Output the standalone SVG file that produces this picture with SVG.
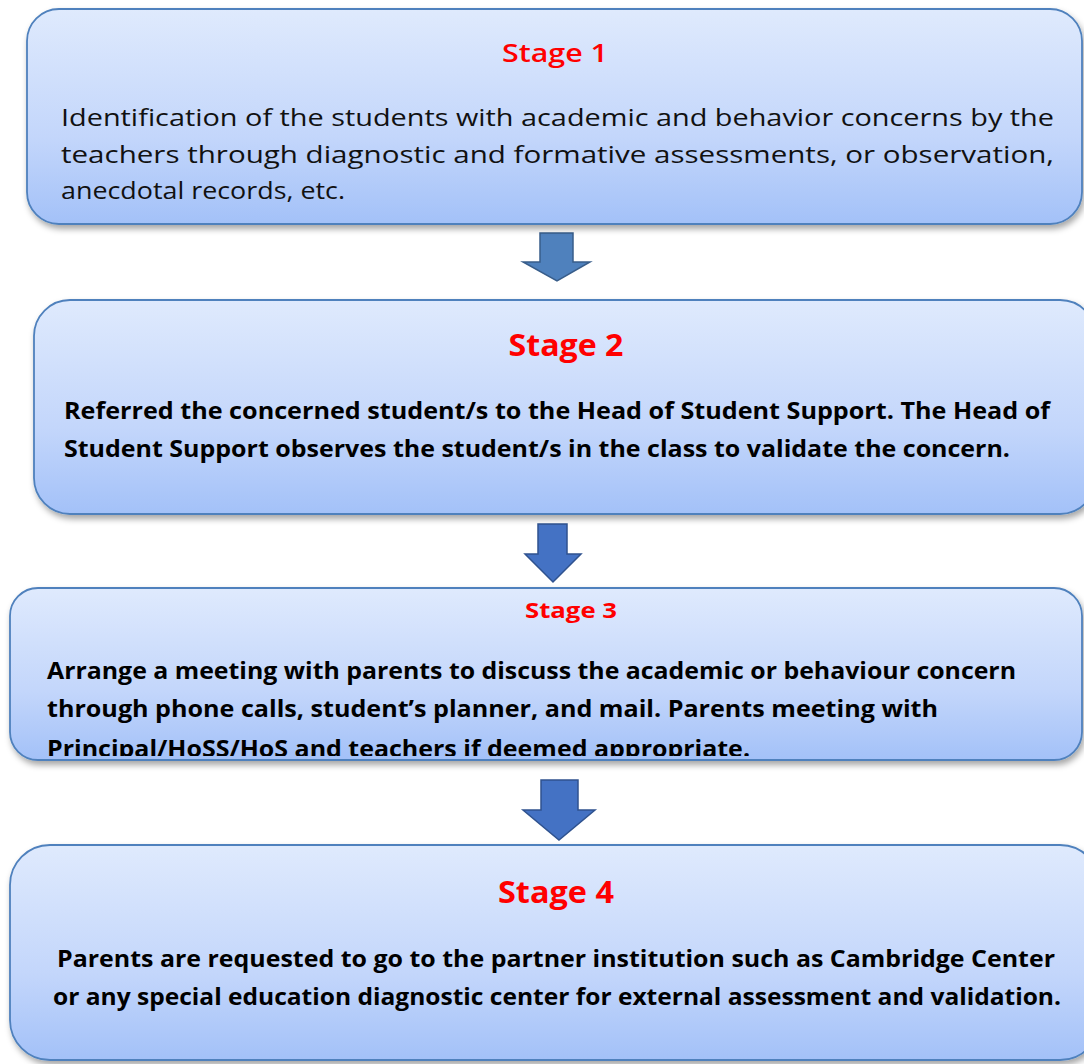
<svg xmlns="http://www.w3.org/2000/svg" width="1084" height="1064" viewBox="0 0 1084 1064">
<defs>
<linearGradient id="boxGrad" x1="0" y1="0" x2="0" y2="1">
<stop offset="0" stop-color="#dfeafd"/>
<stop offset="0.6" stop-color="#c3d6fb"/>
<stop offset="1" stop-color="#a3c1f8"/>
</linearGradient>
<filter id="shadow" x="-5%" y="-10%" width="110%" height="125%">
<feDropShadow dx="2" dy="4" stdDeviation="3" flood-color="#000" flood-opacity="0.35"/>
</filter>
<clipPath id="clip3"><rect x="10" y="588" width="1072" height="168" rx="28"/></clipPath>
<style>
.box{fill:url(#boxGrad);stroke:#4f81bd;stroke-width:1.8;filter:url(#shadow)}
.arrow{fill:#4472c4;stroke:#2f528f;stroke-width:1.5}
.arrow1{fill:#4f81bd;stroke:#385d8a;stroke-width:1.5}
.title{font-family:"Open Sans","Liberation Sans",sans-serif;fill:#ff0000;font-weight:bold}
.body{font-family:"Open Sans","Liberation Sans",sans-serif;fill:#000;font-weight:bold}
.reg{font-family:"Open Sans","Liberation Sans",sans-serif;fill:#111;font-weight:normal}
</style>
</defs>
<rect width="1084" height="1064" fill="#ffffff"/>

<g id="connectors">
<polygon class="arrow1" points="540,233 573,233 573,262 590,262 557,281 523,262 540,262"/>
<polygon class="arrow" points="538,524 567,524 567,554 581,554 553,582 525,554 538,554"/>
<polygon class="arrow" points="541,780 578,780 578,810 595,810 559,840 523,810 541,810"/>
</g>

<g id="stage1">
<rect class="box" x="27" y="9" width="1055" height="215" rx="32"/>
<text class="title" x="555" y="62" text-anchor="middle" font-size="26" style="font-weight:600" textLength="106" lengthAdjust="spacingAndGlyphs">Stage 1</text>
<text class="reg" x="61" y="126" font-size="23" textLength="993" lengthAdjust="spacingAndGlyphs">Identification of the students with academic and behavior concerns by the</text>
<text class="reg" x="61" y="163" font-size="23" textLength="993" lengthAdjust="spacingAndGlyphs">teachers through diagnostic and formative assessments, or observation,</text>
<text class="reg" x="61" y="199" font-size="23" textLength="284" lengthAdjust="spacingAndGlyphs">anecdotal records, etc.</text>
</g>

<g id="stage2">
<rect class="box" x="34" y="300" width="1062" height="214" rx="36"/>
<text class="title" x="566" y="356" text-anchor="middle" font-size="31" textLength="115" lengthAdjust="spacingAndGlyphs">Stage 2</text>
<text class="body" x="64" y="419" font-size="23" textLength="986" lengthAdjust="spacingAndGlyphs">Referred the concerned student/s to the Head of Student Support. The Head of</text>
<text class="body" x="64" y="457" font-size="23" textLength="946" lengthAdjust="spacingAndGlyphs">Student Support observes the student/s in the class to validate the concern.</text>
</g>

<g id="stage3">
<rect class="box" x="10" y="588" width="1072" height="172" rx="28"/>
<text class="title" x="571" y="618" text-anchor="middle" font-size="22" textLength="92" lengthAdjust="spacingAndGlyphs">Stage 3</text>
<g clip-path="url(#clip3)">
<text class="body" x="47" y="679" font-size="23" textLength="969" lengthAdjust="spacingAndGlyphs">Arrange a meeting with parents to discuss the academic or behaviour concern</text>
<text class="body" x="47" y="717" font-size="23" textLength="891" lengthAdjust="spacingAndGlyphs">through phone calls, student’s planner, and mail.  Parents meeting with</text>
<text class="body" x="47" y="757" font-size="23" textLength="703" lengthAdjust="spacingAndGlyphs">Principal/HoSS/HoS and teachers if deemed appropriate.</text>
</g>
</g>

<g id="stage4">
<rect class="box" x="10" y="845" width="1090" height="215" rx="40"/>
<text class="title" x="556" y="903" text-anchor="middle" font-size="31" textLength="116" lengthAdjust="spacingAndGlyphs">Stage 4</text>
<text class="body" x="57" y="967" font-size="23" textLength="998" lengthAdjust="spacingAndGlyphs">Parents are requested to go to the partner institution such as Cambridge Center</text>
<text class="body" x="53" y="1005" font-size="23" textLength="1008" lengthAdjust="spacingAndGlyphs">or any special education diagnostic center for external assessment and validation.</text>
</g>
</svg>
